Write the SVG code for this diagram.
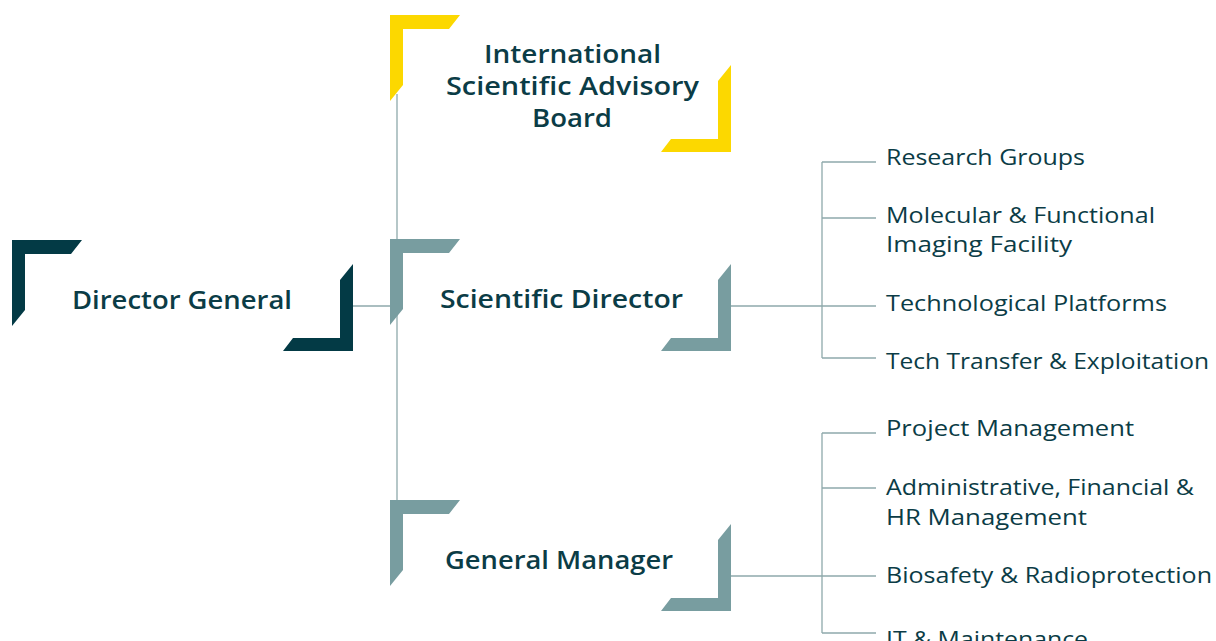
<svg xmlns="http://www.w3.org/2000/svg" width="1216" height="641" viewBox="0 0 1216 641">
  <style>
    .title { font-family: "Open Sans", "Liberation Sans", sans-serif; font-weight: 600; font-size: 25px; fill: #0b3c46; text-anchor: middle; }
    .item { font-family: "Open Sans", "Liberation Sans", sans-serif; font-weight: 400; font-size: 22px; fill: #0b3c46; }
    .link { stroke: #8ea9ab; stroke-width: 1.3; fill: none; }
    .dark { fill: #033a45; }
    .grey { fill: #789da0; }
    .gold { fill: #fcd800; }
  </style>
  <defs>
    <!-- corner brackets framing each box -->
    <path id="tl" d="M0,0 H70 L59,14 H13 V70 L0,86 Z"/>
    <path id="br" d="M0,-87 V0 H-70 L-60,-13 H-13 V-71 Z"/>
  </defs>

  <g id="connectors">
    <line class="link" x1="397" y1="94" x2="397" y2="500"/>
    <line class="link" x1="353" y1="306" x2="397" y2="306"/>
    <!-- scientific branch -->
    <line class="link" x1="731" y1="306" x2="822" y2="306"/>
    <line class="link" x1="822" y1="162" x2="822" y2="358"/>
    <line class="link" x1="822" y1="162" x2="876" y2="162"/>
    <line class="link" x1="822" y1="218" x2="876" y2="218"/>
    <line class="link" x1="822" y1="306" x2="876" y2="306"/>
    <line class="link" x1="822" y1="358" x2="876" y2="358"/>
    <!-- management branch -->
    <line class="link" x1="731" y1="576" x2="822" y2="576"/>
    <line class="link" x1="822" y1="433" x2="822" y2="633"/>
    <line class="link" x1="822" y1="433" x2="876" y2="433"/>
    <line class="link" x1="822" y1="488" x2="876" y2="488"/>
    <line class="link" x1="822" y1="576" x2="876" y2="576"/>
    <line class="link" x1="822" y1="633" x2="876" y2="633"/>
  </g>

  <g id="director-general">
    <use href="#tl" class="dark" x="12" y="240"/>
    <use href="#br" class="dark" x="353" y="351"/>
    <text class="title" x="182" y="309" textLength="220" lengthAdjust="spacingAndGlyphs">Director General</text>
  </g>

  <g id="advisory-board">
    <use href="#tl" class="gold" x="390" y="15"/>
    <use href="#br" class="gold" x="731" y="152"/>
    <text class="title" x="572.5" y="63" textLength="177" lengthAdjust="spacingAndGlyphs">International</text>
    <text class="title" x="572.5" y="95" textLength="253" lengthAdjust="spacingAndGlyphs">Scientific Advisory</text>
    <text class="title" x="572" y="127" textLength="80" lengthAdjust="spacingAndGlyphs">Board</text>
  </g>

  <g id="scientific-director">
    <use href="#tl" class="grey" x="390" y="239"/>
    <use href="#br" class="grey" x="731" y="351"/>
    <text class="title" x="561.5" y="307.5" textLength="243" lengthAdjust="spacingAndGlyphs">Scientific Director</text>
  </g>

  <g id="general-manager">
    <use href="#tl" class="grey" x="390" y="500"/>
    <use href="#br" class="grey" x="731" y="611"/>
    <text class="title" x="559" y="569" textLength="228" lengthAdjust="spacingAndGlyphs">General Manager</text>
  </g>

  <g id="research-groups"><text class="item" x="886" y="165" textLength="199" lengthAdjust="spacingAndGlyphs">Research Groups</text></g>
  <g id="imaging-facility">
    <text class="item" x="886" y="222.5" textLength="269" lengthAdjust="spacingAndGlyphs">Molecular &amp; Functional</text>
    <text class="item" x="886" y="252" textLength="186" lengthAdjust="spacingAndGlyphs">Imaging Facility</text>
  </g>
  <g id="tech-platforms"><text class="item" x="886" y="310.5" textLength="281" lengthAdjust="spacingAndGlyphs">Technological Platforms</text></g>
  <g id="tech-transfer"><text class="item" x="886" y="369" textLength="323" lengthAdjust="spacingAndGlyphs">Tech Transfer &amp; Exploitation</text></g>

  <g id="project-management"><text class="item" x="886" y="436" textLength="248" lengthAdjust="spacingAndGlyphs">Project Management</text></g>
  <g id="admin-finance-hr">
    <text class="item" x="886" y="494.5" textLength="308" lengthAdjust="spacingAndGlyphs">Administrative, Financial &amp;</text>
    <text class="item" x="886" y="524.5" textLength="201" lengthAdjust="spacingAndGlyphs">HR Management</text>
  </g>
  <g id="biosafety"><text class="item" x="886" y="582.5" textLength="326" lengthAdjust="spacingAndGlyphs">Biosafety &amp; Radioprotection</text></g>
  <g id="it-maintenance"><text class="item" x="886" y="647" textLength="202" lengthAdjust="spacingAndGlyphs">IT &amp; Maintenance</text></g>
</svg>
